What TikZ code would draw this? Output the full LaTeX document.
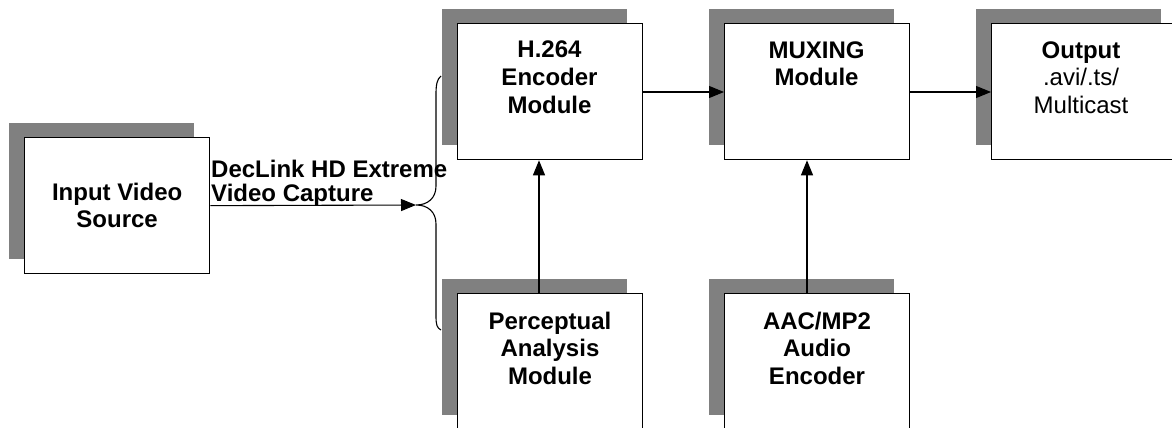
\documentclass[tikz,border=0pt]{standalone}
\usepackage{fontspec}
\setmainfont{Liberation Sans}
\usetikzlibrary{arrows.meta,shadows}
\definecolor{shadowgray}{HTML}{808080}
\tikzset{
  box/.style={draw=black, line width=1.3pt, fill=white,
    minimum width=185pt, minimum height=136pt, inner sep=0pt, anchor=north west,
    general shadow={fill=shadowgray, shadow xshift=-16pt, shadow yshift=15pt}},
  lbl/.style={font=\bfseries\fontsize{24}{28}\selectfont, align=center, anchor=north, inner sep=0pt},
  flow/.style={line width=1.1pt, -{Triangle[length=15pt,width=12pt]}},
  link/.style={line width=1.1pt},
}
\begin{document}
\begin{tikzpicture}[x=1pt,y=-1pt]
  \useasboundingbox (0,0) rectangle (1172,428);
  \clip (0,0) rectangle (1172,428);

  % processing blocks
  \node[box, font=\bfseries\fontsize{24}{27}\selectfont, align=center, anchor=north west]
    (inp) at (24,137) {Input Video\\Source};
  \node[box] (enc)  at (457,23)  {};
  \node[box] (mux)  at (724,23)  {};
  \node[box] (out)  at (991,23)  {};
  \node[box] (perc) at (457,293) {};
  \node[box] (aac)  at (724,293) {};

  % block titles
  \node[lbl] (encT)  at (549.5,40.5) {H.264\\Encoder\\Module};
  \node[lbl, font=\bfseries\fontsize{24}{27}\selectfont] (muxT) at (816.5,41.5) {MUXING\\Module};
  \node[lbl, font=\fontsize{24}{27.5}\selectfont] (outT) at (1081,41.5) {\textbf{Output}\\.avi/.ts/\\Multicast};
  \node[lbl, font=\bfseries\fontsize{24}{27.5}\selectfont] (percT) at (550,311.5) {Perceptual\\Analysis\\Module};
  \node[lbl, font=\bfseries\fontsize{24}{27.5}\selectfont] (aacT) at (817,311.5) {AAC/MP2\\Audio\\Encoder};

  % capture card label
  \node[anchor=north west, align=left, inner sep=0pt,
        font=\bfseries\fontsize{24}{23.5}\selectfont] (cap) at (211,160)
    {DecLink HD Extreme\\Video Capture};

  % splitting brace
  \coordinate (tip) at (416,205);
  \coordinate (bt)  at (441,76);
  \coordinate (bb)  at (441,330);
  \draw[link] (bt) .. controls (437,79) and (436,85) .. (436,94)
     -- (436,186) .. controls (436,198) and (428,205) .. (tip)
     .. controls (428,205) and (436,212) .. (436,224)
     -- (436,316) .. controls (436,325) and (437,328) .. (bb);

  % data flow
  \draw[flow] (inp.east) -- (tip);
  \draw[flow] (enc.east |- 0,92) -- (mux.west |- 0,92);
  \draw[flow] (mux.east |- 0,92) -- (out.west |- 0,92);
  \draw[flow] ([xshift=82pt]perc.north west) -- ([xshift=82pt]enc.south west);
  \draw[flow] ([xshift=83pt]aac.north west) -- ([xshift=83pt]mux.south west);
\end{tikzpicture}
\end{document}
